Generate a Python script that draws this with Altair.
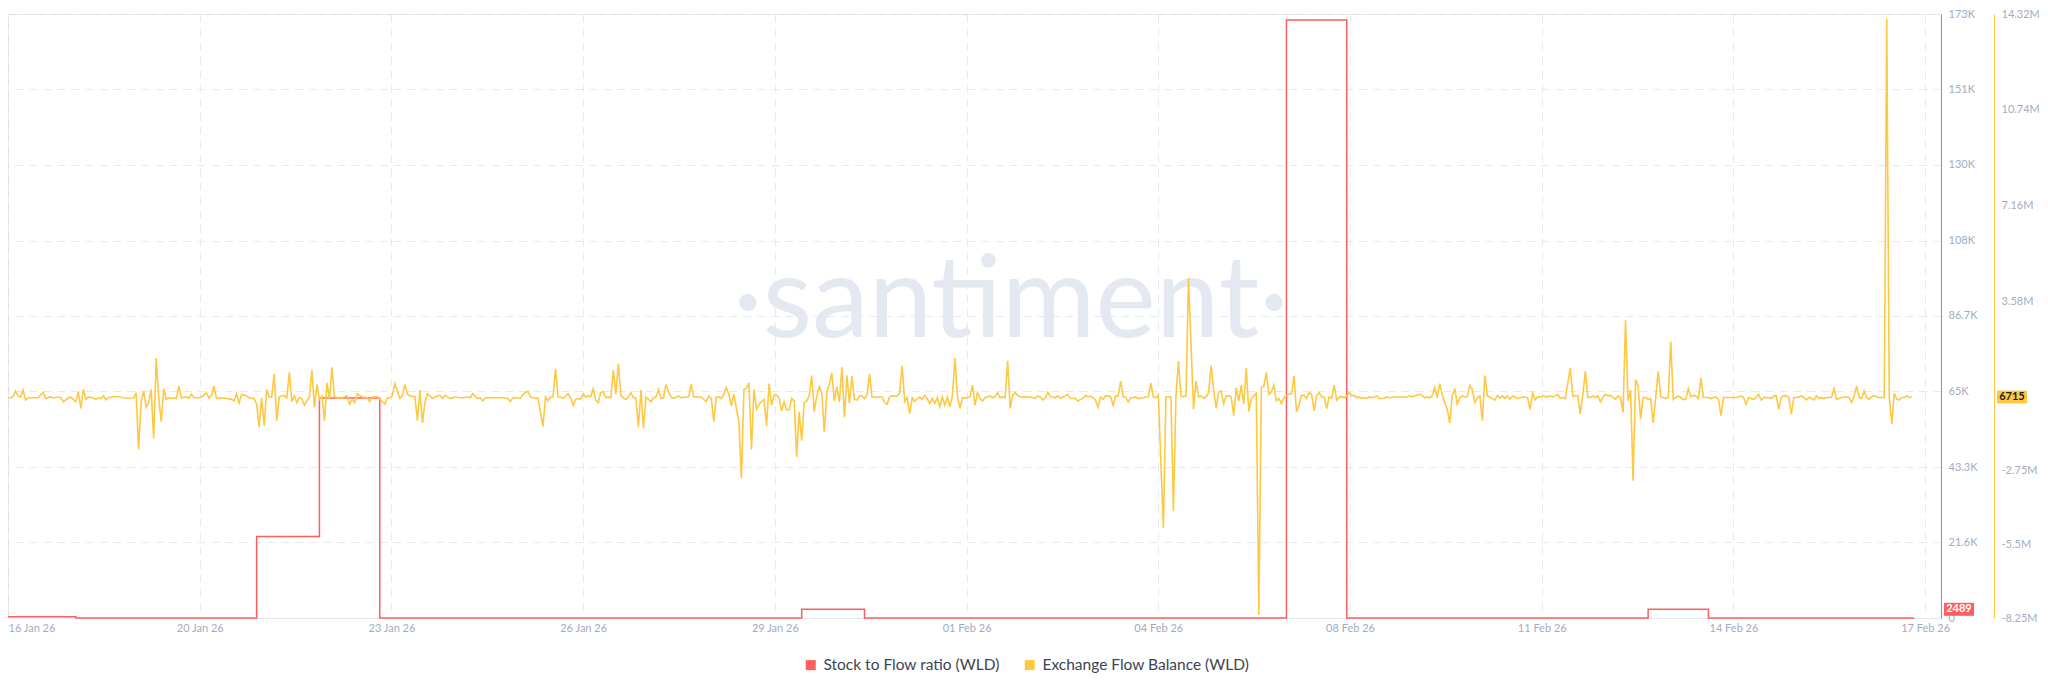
import altair as alt
import pandas as pd

RED = "#ff5e5e"
YEL = "#ffc843"
GRID = "#e6e9f2"
LABEL = "#a3abc3"
FONT = "Lato"

series_names = ["Stock to Flow ratio (WLD)", "Exchange Flow Balance (WLD)"]
start_utc = "2026-01-16T20:53:00Z"
domain_hours = 769.6
tick_step_hours = 76.33
n_ticks = 11

# Stock to Flow ratio: step breakpoints (hour offset, value)
red_hours = [0, 27, 99, 124, 148, 316, 341, 509, 533, 653, 677, 759]
red_values = [350, 0, 23400, 63100, 0, 2489, 0, 171600, 0, 2489, 0, 0]
red_latest = 2489

# Exchange Flow Balance (hour offset, value in millions)
efb_part1 = [(0,-0.03),(1,-0.02),(2,0.02),(3,0.23),(4,0.05),(5,0.01),(6,0.27),(7,-0.11),(8,-0.03),(10,-0.02),(12,-0.02),(14,0.19),(15,-0.05),(17,0.01),(18,-0.03),(20,0.01),(21,-0.02),(22,-0.17),(24,-0.02),(25,0.00),(26,-0.08),(27,-0.17),(28,0.19),(29,-0.42),(30,0.29),(31,-0.08),(32,0.01),(34,-0.03),(35,-0.08),(36,-0.02),(37,-0.05),(38,0.05),(39,-0.10),(40,-0.02),(42,0.02),(44,0.02),(46,-0.02),(48,-0.04),(50,-0.03),(51,0.17),(52,-1.95),(53,-0.17),(54,0.23),(55,-0.38),(56,-0.20),(57,0.29),(58,-1.55),(59,1.46),(60,-0.02),(61,-0.91),(62,0.32),(63,-0.08),(64,-0.02),(65,-0.05),(66,-0.02),(67,-0.05),(68,0.42),(69,-0.02),(71,0.01),(72,-0.04),(73,0.11),(74,-0.02),(76,-0.02),(77,0.01),(79,0.17),(80,-0.02),(81,0.05),(82,0.42),(83,-0.05),(85,-0.02),(87,-0.05),(89,-0.08),(90,-0.14),(91,0.13),(92,-0.22),(93,0.11),(95,0.05),(96,-0.02),(97,-0.05),(98,-0.05),(99,-0.26),(100,-1.12),(101,-0.02),(102,-1.06),(103,0.29),(104,0.01),(105,0.01),(106,0.88),(107,-0.88),(108,0.01),(110,0.07),(111,-0.02),(112,0.93),(113,-0.17),(114,0.05),(115,-0.20),(116,-0.02),(117,-0.05),(118,-0.30),(120,0.01),(121,1.01),(122,-0.38),(123,0.48),(124,-0.08),(125,0.05),(126,-0.88),(127,0.54),(128,-0.08),(129,1.12),(130,0.02),(132,-0.05),(133,-0.02),(135,0.05),(136,-0.26),(137,-0.08),(138,-0.20),(139,0.13),(141,0.01),(143,-0.02),(144,-0.16),(145,0.01),(147,0.02),(148,-0.05),(150,-0.26),(151,-0.02),(152,-0.03),(153,0.05),(154,0.51),(156,-0.04),(157,0.05),(158,0.48),(159,0.13),(160,0.05),(162,0.02),(163,-0.88),(164,0.27),(165,-0.96),(166,-0.20),(167,0.13),(169,-0.05),(170,0.01),(172,0.07),(173,-0.05),(174,0.07),(176,-0.05),(178,0.01),(180,-0.02),(181,-0.02),(183,0.01),(184,-0.02),(185,0.13),(187,-0.05),(188,-0.02),(189,-0.14),(190,-0.02),(193,-0.02),(197,-0.02),(199,-0.05),(200,-0.16),(201,-0.02),(203,-0.02),(204,-0.05),(205,0.11)]
efb_part2 = [(207,0.23),(208,0.01),(209,-0.02),(210,-0.04),(211,-0.03),(213,-1.09),(214,0.01),(215,-0.14),(216,0.01),(217,0.01),(218,1.06),(219,0.01),(220,0.01),(221,-0.05),(223,0.13),(224,-0.02),(225,-0.29),(226,-0.08),(227,-0.05),(228,-0.08),(229,0.13),(230,0.01),(231,0.05),(232,0.02),(233,0.32),(234,-0.11),(235,-0.20),(236,0.17),(237,0.21),(238,-0.02),(239,0.01),(240,-0.02),(241,1.01),(242,0.11),(243,1.25),(244,0.07),(245,-0.02),(246,-0.08),(247,0.02),(248,0.17),(249,-0.02),(250,-0.02),(251,-1.12),(252,0.27),(253,-1.16),(254,0.01),(255,-0.08),(256,-0.17),(257,-0.02),(258,0.01),(259,0.29),(260,-0.04),(261,-0.02),(262,0.48),(263,0.19),(264,0.01),(265,-0.04),(267,0.05),(268,-0.02),(270,0.01),(271,0.02),(272,0.50),(273,0.01),(274,0.02),(276,0.01),(278,-0.16),(279,0.05),(280,-0.04),(281,-0.91),(282,0.01),(283,0.01),(284,-0.05),(285,0.11),(286,0.36),(287,0.11),(288,-0.32),(289,0.11),(291,-0.94),(292,-3.03),(293,0.29),(294,0.32),(295,0.54),(296,-1.95),(297,0.29),(298,-0.45),(299,-0.26),(300,-0.16),(301,-0.08),(302,-1.09),(303,0.51),(304,-0.30),(305,0.07),(306,0.08),(307,-0.02),(308,-0.51),(309,-0.17),(310,-0.47),(311,-0.47),(312,-0.05),(313,-0.14),(314,-2.23),(315,-0.54),(316,-1.62),(317,-0.20),(318,-0.14),(319,0.05),(320,0.81),(321,-0.54),(322,0.05),(323,0.39),(324,0.17),(325,-1.31),(326,0.19),(327,0.48),(328,0.91),(329,-0.14),(330,0.39),(331,-0.17),(332,1.13),(333,-0.75),(334,0.82),(335,-0.22),(336,0.79),(337,-0.08),(338,-0.11),(339,0.05),(340,0.05),(341,-0.05),(342,0.07),(343,0.87),(344,0.01),(345,0.01),(347,0.01),(348,0.01),(349,-0.20),(350,-0.26),(351,0.01),(352,0.05),(354,0.05),(355,0.17),(356,1.18),(357,-0.16),(358,-0.02),(359,-0.61),(360,-0.02),(361,-0.16),(362,-0.05),(363,0.01),(364,-0.08),(365,0.07),(366,-0.05),(367,-0.24),(368,-0.04),(369,-0.22),(370,-0.02),(371,-0.35),(372,0.01),(373,-0.30),(374,0.01),(375,-0.36),(376,0.05),(377,1.46),(378,0.05),(379,-0.42),(380,-0.02),(381,-0.04),(383,0.01),(384,0.45),(385,-0.30),(386,0.17),(387,-0.05),(388,-0.14),(389,-0.02),(391,0.05),(392,-0.02),(393,0.02),(394,0.17),(395,-0.02),(396,0.01),(397,-0.02),(398,1.36),(399,-0.42),(400,0.07),(401,0.17),(402,0.07),(403,0.01),(405,0.02),(407,0.01),(408,-0.02),(409,-0.04),(410,0.05),(411,0.01),(412,-0.10)]
efb_part3 = [(413,-0.02),(414,0.19),(415,0.02),(416,0.01),(417,-0.02),(418,0.05),(419,-0.04),(420,0.01),(421,0.05),(422,0.11),(423,-0.05),(425,-0.05),(426,-0.14),(427,-0.08),(428,-0.04),(429,0.07),(430,0.01),(431,0.05),(432,-0.02),(433,-0.11),(434,-0.38),(435,0.01),(436,-0.08),(437,0.05),(438,0.05),(439,0.02),(440,-0.30),(441,0.05),(442,0.05),(443,0.60),(444,0.01),(445,0.01),(446,-0.17),(447,-0.02),(448,-0.02),(449,0.01),(450,-0.05),(452,-0.02),(453,0.01),(454,0.02),(455,0.54),(456,0.01),(457,-0.02),(458,0.07),(460,-4.88),(461,0.01),(463,0.01),(464,-4.26),(465,0.05),(466,1.35),(467,0.05),(468,0.02),(469,0.05),(470,4.45),(472,-0.45),(473,0.60),(474,0.01),(475,0.05),(476,-0.04),(477,0.01),(478,0.17),(479,1.18),(480,0.29),(481,-0.42),(482,0.19),(483,0.23),(484,-0.24),(485,0.05),(486,0.05),(487,0.01),(488,-0.69),(489,0.36),(490,-0.14),(491,0.44),(492,-0.26),(493,1.09),(494,-0.53),(495,-0.05),(496,0.05),(497,0.15),(498,-8.14),(499,0.36),(500,0.42),(501,0.93),(502,0.11),(503,0.19),(504,0.44),(505,-0.14),(506,-0.05),(507,-0.24),(508,-0.02),(509,0.07),(510,0.11),(511,0.13),(512,0.79),(513,-0.54),(514,-0.29),(515,0.07),(516,0.07),(517,-0.05),(518,0.17),(519,0.11),(520,-0.51),(521,0.05),(522,0.17),(523,0.01),(524,0.01),(525,-0.42),(526,0.01),(527,-0.04),(528,0.45),(529,-0.11),(530,0.01),(531,0.02),(532,-0.02),(533,0.05),(534,0.17),(535,0.05),(536,0.07),(537,-0.02),(538,0.01),(539,-0.04),(540,-0.02),(541,-0.04),(542,0.01),(543,-0.02),(544,0.01),(545,0.05),(546,-0.05),(548,-0.04),(549,0.01),(550,-0.02),(552,0.01),(555,0.01),(557,0.01),(558,0.05),(559,0.01),(560,0.05),(561,0.07),(562,0.11),(563,0.07),(564,-0.02),(565,0.01),(566,-0.02),(567,0.05),(568,0.36),(569,-0.02),(570,0.51),(571,0.11),(572,-0.20),(573,-0.45),(574,-0.96),(575,0.05),(576,0.33),(577,-0.26),(578,-0.02),(579,0.05),(580,0.01),(581,0.02),(582,0.44),(583,0.29),(584,-0.20),(585,-0.02),(586,0.05),(587,-0.88),(588,0.81),(589,0.05),(590,0.01),(591,-0.05),(592,-0.11),(593,0.07),(594,-0.04),(595,0.05),(596,-0.04),(597,0.05),(598,-0.08),(599,0.05),(600,0.01),(601,-0.05),(602,-0.02),(603,0.01),(604,0.01),(605,-0.02),(606,-0.45),(607,0.15),(608,-0.10),(609,0.02),(610,0.01),(611,0.05),(613,0.01),(614,0.05),(615,0.01),(616,0.05),(617,0.11),(618,-0.04)]
efb_part4 = [(619,-0.01),(620,-0.05),(622,1.09),(623,0.05),(624,0.05),(625,0.05),(626,-0.63),(627,0.11),(628,0.97),(629,-0.01),(630,-0.01),(631,0.05),(632,-0.01),(633,0.05),(634,-0.17),(635,-0.01),(636,0.11),(637,0.05),(638,0.07),(640,-0.08),(641,0.05),(642,-0.01),(643,-0.57),(644,2.88),(645,-0.14),(646,0.27),(647,-3.12),(648,0.66),(649,0.42),(650,-0.82),(651,-0.01),(652,-0.01),(653,-0.08),(654,-0.05),(655,-0.96),(656,-0.01),(657,0.97),(658,0.01),(659,-0.01),(660,-0.05),(661,-0.01),(662,2.08),(663,-0.08),(664,-0.01),(665,0.05),(666,-0.01),(667,-0.08),(668,-0.08),(669,0.32),(670,0.02),(671,0.07),(672,0.05),(673,-0.05),(674,0.72),(675,-0.01),(676,-0.01),(677,-0.01),(678,-0.05),(679,-0.01),(680,0.01),(681,-0.08),(682,-0.69),(683,-0.01),(684,-0.01),(686,-0.01),(688,-0.01),(689,0.01),(690,0.05),(691,-0.01),(692,-0.26),(693,-0.01),(694,-0.05),(695,-0.08),(696,-0.01),(697,0.11),(698,-0.11),(699,-0.01),(700,-0.01),(701,-0.01),(702,-0.05),(703,0.05),(704,0.05),(705,-0.45),(706,-0.01),(707,0.05),(708,0.05),(709,-0.01),(710,-0.63),(711,-0.01),(712,-0.01),(713,0.01),(714,0.05),(715,-0.01),(716,-0.10),(717,-0.01),(718,-0.05),(719,-0.10),(720,0.05),(721,-0.05),(722,-0.01),(723,-0.05),(724,-0.01),(725,-0.01),(726,-0.01),(727,0.32),(728,-0.08),(729,-0.05),(730,-0.01),(731,0.01),(732,0.01),(733,-0.01),(734,-0.20),(735,0.05),(736,0.42),(737,-0.01),(738,-0.05),(739,0.23),(740,-0.01),(741,-0.08),(742,0.01),(743,0.07),(744,0.01),(745,-0.01),(746,-0.01),(747,-0.01),(748,14.15),(749,-0.01),(750,-1.00),(751,0.15),(752,-0.08),(753,-0.10),(754,-0.01),(755,-0.01),(756,0.05),(757,-0.01),(758,0.0067)]
efb_latest = 6715

red_ticks = [0, 21666.67, 43333.33, 65000, 86666.67, 108333.33, 130000, 151666.67, 173333.33]
red_tick_labels = ["0", "21.6K", "43.3K", "65K", "86.7K", "108K", "130K", "151K", "173K"]
efb_ticks = [-8250000, -5500000, -2750000, 3580000, 7160000, 10740000, 14320000]
efb_tick_labels = ["-8.25M", "-5.5M", "-2.75M", "3.58M", "7.16M", "10.74M", "14.32M"]

W, H = 1933, 604
HOUR = 3600000
t0_ms = int(pd.Timestamp(start_utc).value // 10**6)


def ms(h):
    return t0_ms + int(round(h * HOUR))


def label_expr(values, labels):
    expr = "''"
    for v, l in reversed(list(zip(values, labels))):
        expr = f"abs(datum.value - ({v})) < 1 ? '{l}' : {expr}"
    return expr


red_df = pd.DataFrame({"t": [ms(h) for h in red_hours], "v": red_values})
efb_all = efb_part1 + efb_part2 + efb_part3 + efb_part4
efb_df = pd.DataFrame({"t": [ms(h) for h, _ in efb_all], "v": [v * 1e6 for _, v in efb_all]})
red_last = pd.DataFrame({"v": [red_latest], "label": [str(red_latest)], "series": [series_names[0]]})
efb_last = pd.DataFrame({"v": [efb_latest], "label": [str(efb_latest)], "series": [series_names[1]]})

x_enc = alt.X(
    "t:T",
    scale=alt.Scale(type="utc", domain=[t0_ms, ms(domain_hours)]),
    axis=alt.Axis(
        values=[ms(k * tick_step_hours) for k in range(n_ticks)],
        labelExpr="utcFormat(datum.value, '%d %b %y')",
        title=None, grid=True, gridDash=[8, 6], gridColor=GRID,
        ticks=False, tickSize=0, domainColor="#e3e7f0",
        labelColor=LABEL, labelFont=FONT, labelFontSize=11, labelPadding=4,
        labelFlush=10, labelOverlap=False,
    ),
)

red_axis = alt.Axis(
    orient="right", values=red_ticks, labelExpr=label_expr(red_ticks, red_tick_labels),
    title=None, grid=True, gridDash=[8, 6], gridColor=GRID, ticks=False, tickSize=0,
    domainColor=RED, labelColor=LABEL, labelFont=FONT, labelFontSize=11, labelPadding=7,
    labelOverlap=False,
)
efb_axis = alt.Axis(
    orient="right", offset=53, values=efb_ticks, labelExpr=label_expr(efb_ticks, efb_tick_labels),
    title=None, grid=False, ticks=False, tickSize=0,
    domainColor=YEL, labelColor=LABEL, labelFont=FONT, labelFontSize=11, labelPadding=7,
    labelOverlap=False,
)
y_red = alt.Y("v:Q", scale=alt.Scale(domain=[0, 173333.33], nice=False, zero=False), axis=red_axis)
y_efb = alt.Y("v:Q", scale=alt.Scale(domain=[-8250000, 14320000], nice=False, zero=False), axis=efb_axis)

color_enc = alt.Color(
    "series:N",
    scale=alt.Scale(domain=series_names, range=[RED, YEL]),
    legend=alt.Legend(
        orient="none", legendX=795, legendY=643, direction="horizontal", title=None,
        symbolType="square", symbolSize=100, symbolStrokeWidth=0, symbolOpacity=1,
        labelFont=FONT, labelFontSize=15.5, labelColor="#3d4452", labelLimit=400,
        columnPadding=22, labelOffset=5, padding=0,
    ),
)

watermark = alt.Chart(pd.DataFrame({"w": [0]})).mark_text(
    text="·santiment·", font=FONT, fontSize=114, fontWeight=400, color="#e4e8f1",
    align="center", baseline="middle",
).encode(x=alt.value(1003), y=alt.value(289))

red_line = alt.Chart(red_df).mark_line(color=RED, strokeWidth=1.5, interpolate="step-after").encode(x=x_enc, y=y_red)
red_sq = alt.Chart(red_last).mark_square(size=100, filled=True, opacity=1).encode(x=alt.value(W + 18), y=y_red, color=color_enc)
red_badge = alt.Chart(red_last).mark_rule(color=RED, strokeWidth=13, strokeCap="butt").encode(
    x=alt.value(W + 3), x2=alt.value(W + 33), y=y_red)
red_text = alt.Chart(red_last).mark_text(color="white", font=FONT, fontSize=11, fontWeight="bold",
                                         align="center", baseline="middle").encode(
    x=alt.value(W + 18), y=y_red, text="label:N")
red_layer = alt.layer(red_line, red_sq, red_badge, red_text)

efb_line = alt.Chart(efb_df).mark_line(color=YEL, strokeWidth=1.6).encode(x=x_enc, y=y_efb)
efb_sq = alt.Chart(efb_last).mark_square(size=100, filled=True, opacity=1).encode(x=alt.value(W + 71), y=y_efb, color=color_enc)
efb_badge = alt.Chart(efb_last).mark_rule(color=YEL, strokeWidth=13, strokeCap="butt").encode(
    x=alt.value(W + 56), x2=alt.value(W + 86), y=y_efb)
efb_text = alt.Chart(efb_last).mark_text(color="#1c1c1c", font=FONT, fontSize=11, fontWeight="bold",
                                         align="center", baseline="middle").encode(
    x=alt.value(W + 71), y=y_efb, text="label:N")
efb_layer = alt.layer(efb_line, efb_sq, efb_badge, efb_text)

chart = alt.layer(watermark, red_layer, efb_layer).resolve_scale(y="independent").properties(
    width=W, height=H,
    padding={"left": 0, "top": 6, "right": 98, "bottom": 62},
    autosize=alt.AutoSizeParams(type="none"),
).configure_view(stroke=None).configure(background="white")

chart.save("out.html", embed_options={"renderer": "svg", "actions": False})
